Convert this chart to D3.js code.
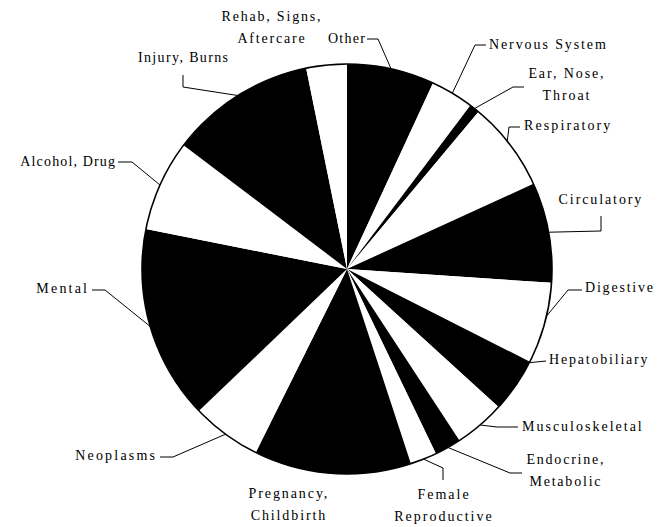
<!DOCTYPE html>
<html>
<head>
<meta charset="utf-8">
<script src="https://cdnjs.cloudflare.com/ajax/libs/d3/7.8.5/d3.min.js"></script>
<style>
  body { margin: 0; background: #fff; }
  svg text { font-family: "Liberation Serif", "Times New Roman", serif; font-size: 14px; fill: #000; }
</style>
</head>
<body>
<div id="chart"></div>
<script>

// slices, clockwise from 12 o'clock
var categories = ["Other", "Nervous System", "Ear, Nose, Throat", "Respiratory", "Circulatory",
    "Digestive", "Hepatobiliary", "Musculoskeletal", "Endocrine, Metabolic", "Female Reproductive",
    "Pregnancy, Childbirth", "Neoplasms", "Mental", "Alcohol, Drug", "Injury, Burns",
    "Rehab, Signs, Aftercare"];

// percent of total
var shares = [6.9, 3.4, 0.8, 7.1, 7.9, 6.4, 4.3, 4.0, 2.1, 2.1, 12.4, 5.5, 15.3, 7.2, 11.5, 3.2];

// label text lines
var labelLines = [["Other"], ["Nervous System"], ["Ear, Nose,", "Throat"], ["Respiratory"],
    ["Circulatory"], ["Digestive"], ["Hepatobiliary"], ["Musculoskeletal"], ["Endocrine,", "Metabolic"],
    ["Female", "Reproductive"], ["Pregnancy,", "Childbirth"], ["Neoplasms"], ["Mental"],
    ["Alcohol, Drug"], ["Injury, Burns"], ["Rehab, Signs,", "Aftercare"]];

var width = 669, height = 527;
var cx = 347, cy = 269, radius = 205;

// where each label sits and how its leader line bends (annotation layout only)
var labelLayout = [
    {x: 365, y: 38, anchor: "end", ls: 1.3, elbow: [378, 39], end: [367, 39], t: 0.5},
    {x: 489, y: 44, anchor: "start", ls: 1.9, elbow: [475, 45], end: [486, 45], t: 0.5},
    {x: 566, y: 73, anchor: "middle", ls: 1.9, elbow: [513, 87], end: [524, 87], t: 0.5},
    {x: 524, y: 125, anchor: "start", ls: 2.1, elbow: [509, 127], end: [520, 127], t: 0.45},
    {x: 600, y: 199, anchor: "middle", ls: 1.9, elbow: [601, 231], end: [601, 216], t: 0.5},
    {x: 585, y: 287, anchor: "start", ls: 1.8, elbow: [568, 290], end: [582, 290], t: 0.41},
    {x: 549, y: 359, anchor: "start", ls: 1.8, elbow: [546, 361], end: [546, 361], t: 0.02},
    {x: 522, y: 426, anchor: "start", ls: 2.0, elbow: [497, 427], end: [518, 427], t: 0.5},
    {x: 565, y: 459, anchor: "middle", ls: 1.8, elbow: [510, 473], end: [522, 473], t: 0.5},
    {x: 443, y: 494, anchor: "middle", ls: 2.0, elbow: [443, 468], end: [443, 480], t: 0.5},
    {x: 288, y: 493, anchor: "middle", ls: 1.9, elbow: null},
    {x: 155, y: 455, anchor: "end", ls: 2.2, elbow: [173, 457], end: [160, 457], t: 0.5},
    {x: 87, y: 288, anchor: "end", ls: 2.2, elbow: [105, 290], end: [92, 290], t: 0.5},
    {x: 115, y: 161, anchor: "end", ls: 1.15, elbow: [132, 162], end: [118, 162], t: 0.5},
    {x: 183, y: 57, anchor: "middle", ls: 1.36, elbow: [183, 87], end: [183, 75], t: 0.5},
    {x: 271, y: 16, anchor: "middle", ls: 1.8, elbow: null}
];
var lineGap = 22.5;

var data = categories.map(function(c, i) {
    return {name: c, value: shares[i], lines: labelLines[i], lay: labelLayout[i], i: i};
});

var svg = d3.select("#chart").append("svg")
    .attr("width", width)
    .attr("height", height);

var g = svg.append("g")
    .attr("transform", "translate(" + cx + "," + cy + ")");

var pie = d3.pie()
    .sort(null)
    .value(function(d) { return d.value; });

var arc = d3.arc()
    .innerRadius(0)
    .outerRadius(radius);

var arcs = pie(data);

g.selectAll(".slice")
    .data(arcs)
    .enter()
    .append("path")
    .attr("class", "slice")
    .attr("d", arc)
    .attr("fill", function(d) { return d.index % 2 === 0 ? "#000" : "#fff"; });

g.append("circle")
    .attr("r", radius)
    .attr("fill", "none")
    .attr("stroke", "#000")
    .attr("stroke-width", 1.6);

// leader lines
var leader = d3.line();
svg.selectAll(".leader")
    .data(arcs.filter(function(d) { return d.data.lay.elbow; }))
    .enter()
    .append("path")
    .attr("class", "leader")
    .attr("fill", "none")
    .attr("stroke", "#000")
    .attr("stroke-width", 1)
    .attr("d", function(d) {
        var lay = d.data.lay;
        var a = d.startAngle + lay.t * (d.endAngle - d.startAngle);
        var p = [cx + radius * Math.sin(a), cy - radius * Math.cos(a)];
        return leader([p, lay.elbow, lay.end]);
    });

// labels
var labels = svg.selectAll(".label")
    .data(data)
    .enter()
    .append("text")
    .attr("class", "label")
    .attr("text-anchor", function(d) { return d.lay.anchor; })
    .style("letter-spacing", function(d) { return d.lay.ls + "px"; });

labels.selectAll("tspan")
    .data(function(d) { return d.lines.map(function(l) { return {text: l, lay: d.lay}; }); })
    .enter()
    .append("tspan")
    .attr("x", function(d) {
        var shift = d.lay.anchor === "end" ? d.lay.ls : (d.lay.anchor === "middle" ? d.lay.ls / 2 : 0);
        return d.lay.x + shift;
    })
    .attr("y", function(d, j) { return d.lay.y + j * lineGap; })
    .attr("dy", "0.34em")
    .text(function(d) { return d.text; });

</script>
</body>
</html>
